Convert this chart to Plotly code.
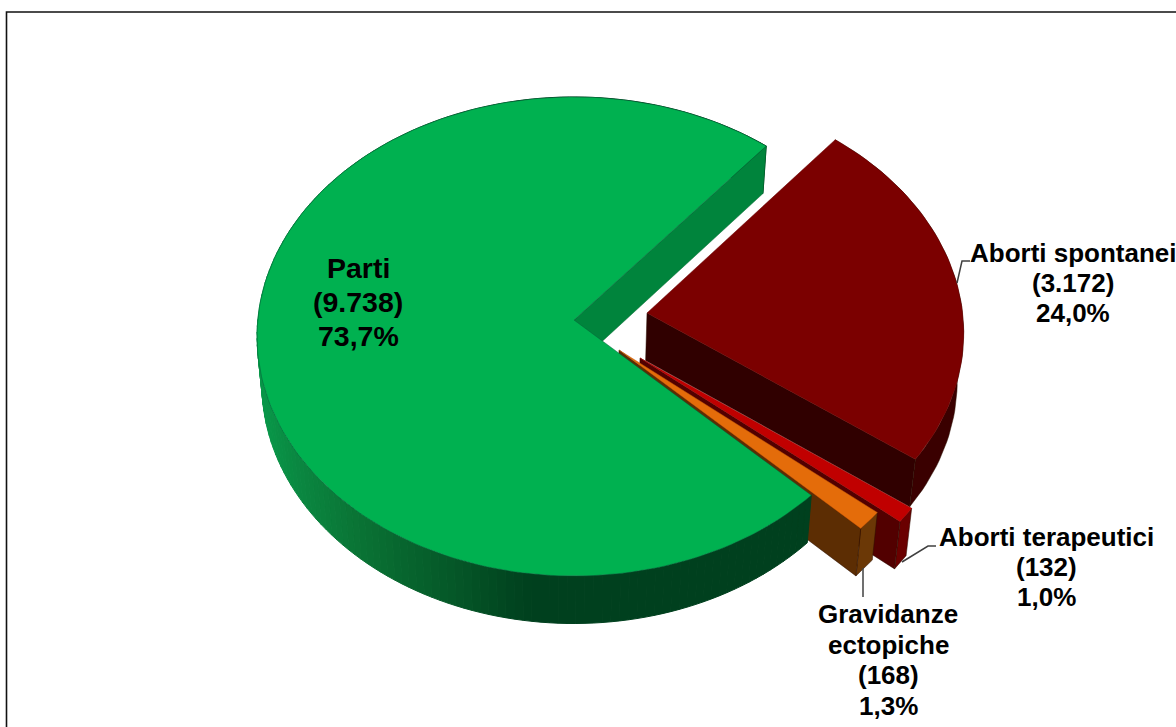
import math
import plotly.graph_objects as go

# --- data ---
categories = ["Aborti spontanei", "Aborti terapeutici", "Gravidanze ectopiche", "Parti"]
name_lines = [["Aborti spontanei"], ["Aborti terapeutici"], ["Gravidanze", "ectopiche"], ["Parti"]]
values = [3172, 132, 168, 9738]

# --- style ---
top_colors = ["#7B0000", "#C00000", "#E46C0A", "#00B150"]
cut_colors = ["#300000", "#520000", "#5C2D03", "#00843C"]
rim_colors = ["#3A0000", "#6A0000", "#6B3806", None]
green_rim_stops = [(262, (8, 150, 72)), (300, (10, 134, 64)), (350, (10, 118, 54)), (400, (7, 102, 46)),
                   (450, (5, 88, 40)), (500, (2, 72, 33)), (530, (0, 64, 30)), (820, (0, 64, 30))]
start_angle = 39.8
apex_px = [(647, 313), (640, 358), (619, 350), (574, 320)]
label_x = [1073, 1046, 888, 358]
label_first_y = [253, 537, 614, 268]
label_pitch = [30, 30, 30.5, 34]
label_size = [26, 26, 26, 28.5]
CX, CY, A, B, K = 574, 320, 316.2, 238.4, 0.0688
DEPTH, X0, SHRINK = 47.5, 560, 0.016


def project(u, v):
    w = 1 - K * v
    return CX + A * u / w, CY + B * v / w


def unproject(sx, sy):
    t = (sy - CY) / B
    v = t / (1 + K * t)
    return (sx - CX) * (1 - K * v) / A, v


def drop(p):
    return p[0] - (p[0] - X0) * SHRINK, p[1] + DEPTH


def rim(offset, deg):
    r = math.radians(deg)
    return project(offset[0] + math.sin(r), offset[1] - math.cos(r))


def poly(pts, fill, line=None, lw=0.5):
    xs = [p[0] for p in pts] + [pts[0][0]]
    ys = [p[1] for p in pts] + [pts[0][1]]
    return go.Scatter(x=xs, y=ys, mode="lines", fill="toself", fillcolor=fill,
                      line=dict(color=line or fill, width=lw), hoverinfo="skip", showlegend=False)


def green_color(x):
    s = green_rim_stops
    if x <= s[0][0]:
        c = s[0][1]
    elif x >= s[-1][0]:
        c = s[-1][1]
    else:
        for (x0, c0), (x1, c1) in zip(s, s[1:]):
            if x0 <= x <= x1:
                f = (x - x0) / (x1 - x0)
                c = tuple(c0[i] + (c1[i] - c0[i]) * f for i in range(3))
                break
    return "rgb(%d,%d,%d)" % tuple(round(q) for q in c)


total = sum(values)
fig = go.Figure()
angle = start_angle
for i, val in enumerate(values):
    sweep = 360 * val / total
    a0, a1 = angle, angle + sweep
    angle = a1
    off = unproject(*apex_px[i])
    apex = apex_px[i]
    n = max(2, int(sweep / 1.5))
    arc = [rim(off, a0 + (a1 - a0) * j / n) for j in range(n + 1)]

    if i == 3:
        for p, q in zip(arc, arc[1:]):
            col = green_color((p[0] + q[0]) / 2)
            fig.add_trace(poly([p, q, drop(q), drop(p)], col, col, 1))
        fig.add_trace(poly([apex, arc[-1], drop(arc[-1]), drop(apex)], cut_colors[i], "#006a30"))
    else:
        fig.add_trace(poly([p for p in arc] + [drop(p) for p in reversed(arc)], rim_colors[i], "#2a0f00"))
        fig.add_trace(poly([apex, arc[-1], drop(arc[-1]), drop(apex)], cut_colors[i], "#2a0f00"))
    edge = {0: "#6a0000", 1: "#a00000", 2: "#c05a08", 3: "#06603a"}[i]
    fig.add_trace(poly([apex] + arc, top_colors[i], edge))

annotations = []
for i, val in enumerate(values):
    num = f"{val:,}".replace(",", ".")
    pct = f"{100 * val / total:.1f}".replace(".", ",")
    for j, line in enumerate(name_lines[i] + [f"({num})", f"{pct}%"]):
        annotations.append(dict(x=label_x[i], y=label_first_y[i] + j * label_pitch[i], xref="x", yref="y",
                                text=f"<b>{line}</b>", showarrow=False, xanchor="center", yanchor="middle",
                                font=dict(family="Liberation Sans, Arial, sans-serif",
                                          size=label_size[i], color="#000000")))

leader = dict(color="#404040", width=1.5)
shapes = [
    dict(type="path", path="M 957 283 L 962 261 L 970 261", line=leader, xref="x", yref="y"),
    dict(type="path", path="M 902 562 L 928 546 L 936 546", line=leader, xref="x", yref="y"),
    dict(type="path", path="M 863 568 L 863 597", line=leader, xref="x", yref="y"),
    dict(type="path", path="M 6.5 727 L 6.5 12 L 1176 12", line=dict(color="#111111", width=1.6), xref="x", yref="y"),
]

fig.update_layout(
    width=1176, height=727, autosize=False, margin=dict(l=0, r=0, t=0, b=0),
    paper_bgcolor="white", plot_bgcolor="white", showlegend=False,
    xaxis=dict(range=[0, 1176], visible=False, fixedrange=True),
    yaxis=dict(range=[727, 0], visible=False, fixedrange=True),
    annotations=annotations, shapes=shapes,
)
fig.write_html("out.html", config={"displayModeBar": False},
               post_script="document.body.style.margin='0';document.body.style.overflow='hidden';")
